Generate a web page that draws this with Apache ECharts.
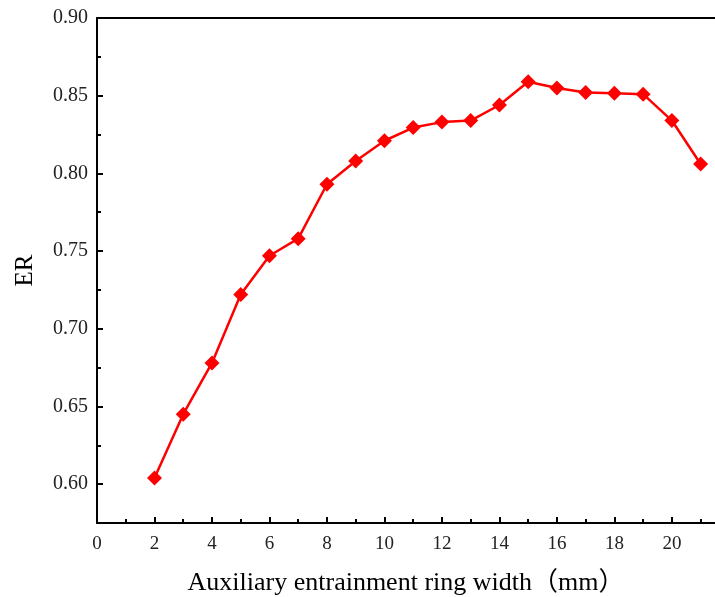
<!DOCTYPE html>
<html>
<head>
<meta charset="utf-8">
<script src="https://cdn.jsdelivr.net/npm/echarts@6/dist/echarts.min.js"></script>
<style>html,body{margin:0;padding:0;background:#fff;}#c{width:715px;height:597px;}</style>
</head>
<body>
<div id="c"></div>
<script>
var widths = [2, 3, 4, 5, 6, 7, 8, 9, 10, 11, 12, 13, 14, 15, 16, 17, 18, 19, 20, 21];
var erValues = [0.604, 0.645, 0.678, 0.722, 0.747, 0.758, 0.793, 0.808, 0.821, 0.8295, 0.833, 0.834, 0.844, 0.859, 0.855, 0.852, 0.8515, 0.851, 0.834, 0.806];
var xMajorTicks = [0, 2, 4, 6, 8, 10, 12, 14, 16, 18, 20];
var xMinorTicks = [1, 3, 5, 7, 9, 11, 13, 15, 17, 19, 21];
var yMajorTicks = [0.60, 0.65, 0.70, 0.75, 0.80, 0.85, 0.90];
var yMinorTicks = [0.625, 0.675, 0.725, 0.775, 0.825, 0.875];
var xTitle = 'Auxiliary entrainment ring width\uff08mm\uff09';
var yTitle = 'ER';

var font = '"Liberation Serif", "Noto Sans CJK SC", serif';
var axisLineStyle = {color: '#000', width: 2};
var chart = echarts.init(document.getElementById('c'));
var data = widths.map(function (w, i) { return [w, erValues[i]]; });

chart.setOption({
  animation: false,
  grid: {left: 97, right: 0, top: 18, bottom: 74, containLabel: false, outerBoundsMode: 'none'},
  xAxis: [{
    type: 'value', min: 0, max: 21.5, position: 'bottom',
    name: xTitle, nameLocation: 'middle', nameGap: 47,
    nameTextStyle: {fontFamily: font, fontSize: 26, color: '#000'},
    axisLine: {show: true, onZero: false, lineStyle: axisLineStyle},
    axisTick: {show: true, inside: true, length: 6, lineStyle: {color: '#000', width: 2}, customValues: xMajorTicks},
    axisLabel: {show: true, margin: 12, fontFamily: font, fontSize: 19, color: '#222', customValues: xMajorTicks,
      formatter: function (v) { return String(v); }},
    splitLine: {show: false}
  }, {
    type: 'value', min: 0, max: 21.5, position: 'bottom',
    axisLine: {show: false},
    axisTick: {show: true, inside: true, length: 4, lineStyle: {color: '#000', width: 2}, customValues: xMinorTicks},
    axisLabel: {show: false},
    splitLine: {show: false}
  }, {
    type: 'value', min: 0, max: 21.5, position: 'top',
    axisLine: {show: true, onZero: false, lineStyle: axisLineStyle},
    axisTick: {show: false}, axisLabel: {show: false}, splitLine: {show: false}
  }],
  yAxis: [{
    type: 'value', min: 0.575, max: 0.9, position: 'left',
    name: yTitle, nameLocation: 'middle', nameGap: 59, nameRotate: 90,
    nameTextStyle: {fontFamily: font, fontSize: 25, color: '#000'},
    axisLine: {show: true, onZero: false, lineStyle: axisLineStyle},
    axisTick: {show: true, inside: true, length: 6, lineStyle: {color: '#000', width: 2}, customValues: yMajorTicks},
    axisLabel: {show: true, margin: 9, fontFamily: font, fontSize: 20, color: '#222', customValues: yMajorTicks,
      formatter: function (v) { return v.toFixed(2); }},
    splitLine: {show: false}
  }, {
    type: 'value', min: 0.575, max: 0.9, position: 'left',
    axisLine: {show: false},
    axisTick: {show: true, inside: true, length: 4, lineStyle: {color: '#000', width: 2}, customValues: yMinorTicks},
    axisLabel: {show: false},
    splitLine: {show: false}
  }],
  series: [{
    type: 'line', xAxisIndex: 0, yAxisIndex: 0,
    data: data,
    symbol: 'diamond', symbolSize: 15,
    itemStyle: {color: '#ff0000'},
    lineStyle: {color: '#ff0000', width: 2.5},
    z: 5
  }]
});
</script>
</body>
</html>
